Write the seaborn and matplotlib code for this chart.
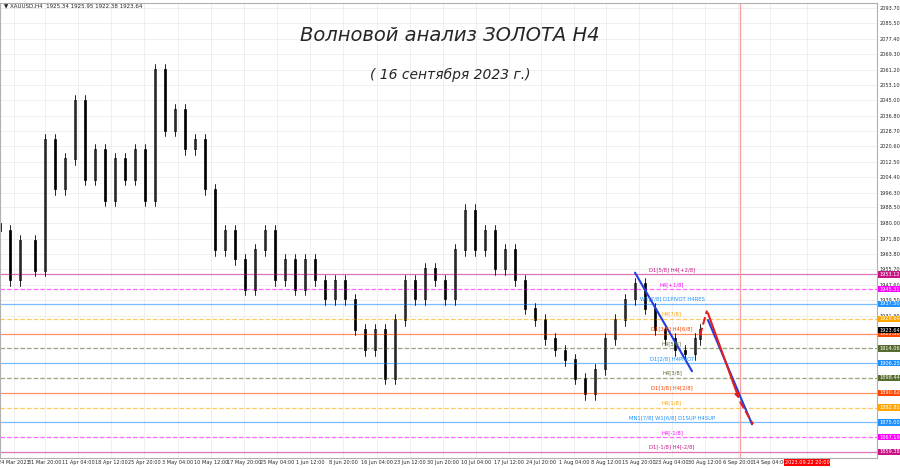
import matplotlib
matplotlib.use("Agg")
import matplotlib.pyplot as plt
import seaborn as sns
import numpy as np

sns.set_style("white")
plt.rcParams['font.family'] = ['DejaVu Sans']

# approximate bar positions (chart x units) and closing prices
bar_x = [0,10,20,35,45,55,65,75,85,95,105,115,125,135,145,155,165,175,185,195,205,215,225,235,245,255,
         265,275,285,295,305,315,325,335,345,355,365,375,385,395,405,415,425,435,445,455,465,475,485,495,
         505,515,525,535,545,555,565,575,585,595,605,615,625,635,645,655,665,675,685,695,700]
closes = [1976,1950,1971,1955,2024,1998,2014,2045,2003,2019,1992,2014,2003,2019,1992,2061,2029,2040,2019,2024,
          1998,1966,1976,1961,1945,1966,1976,1950,1961,1945,1961,1950,1940,1950,1940,1924,1913,1924,1898,1929,
          1950,1940,1956,1950,1940,1966,1987,1966,1976,1956,1966,1950,1935,1929,1919,1913,1908,1898,1890,1903,
          1919,1929,1940,1948,1935,1924,1919,1913,1911,1919,1924]

levels = [1953.12,1945.31,1937.50,1929.69,1921.88,1914.06,1906.25,1898.44,1890.62,1882.81,1875.00,1867.19,1859.38]
level_labels = ["D1[5/8] H4[+2/8]","H4[+1/8]","W1[7/8] D1PIVOT H4RES","H4[7/8]","D1[3/8] H4[6/8]","H4[5/8]",
                "D1[2/8] H4PIVOT","H4[3/8]","D1[1/8] H4[2/8]","H4[1/8]","MN1[7/8] W1[6/8] D1SUP H4SUP","H4[-1/8]","D1[-1/8] H4[-2/8]"]
level_colors = ["#c71585","#ff00ff","#1e90ff","#ffa500","#ff4500","#556b2f","#1e90ff","#556b2f","#ff4500","#ffa500","#1e90ff","#ff00ff","#c71585"]
level_styles = ["-","--","-","--","-","--","-","--","-","--","-","--","-"]

yticks = [2093.70,2085.50,2077.40,2069.30,2061.20,2053.10,2045.00,2036.80,2028.70,2020.60,2012.50,2004.40,
          1996.30,1988.50,1980.00,1971.80,1963.80,1955.70,1947.60,1939.50,1931.30]
xtick_pos = [14,45,78,111,144,178,211,244,277,310,343,377,410,443,476,509,541,574,606,639,672,705,738,770,807]
xtick_labels = ["24 Mar 2023","31 Mar 20:00","11 Apr 04:00","18 Apr 12:00","25 Apr 20:00","3 May 04:00",
                "10 May 12:00","17 May 20:00","25 May 04:00","1 Jun 12:00","8 Jun 20:00","16 Jun 04:00",
                "23 Jun 12:00","30 Jun 20:00","10 Jul 04:00","17 Jul 12:00","24 Jul 20:00","1 Aug 04:00",
                "8 Aug 12:00","15 Aug 20:00","23 Aug 04:00","30 Aug 12:00","6 Sep 20:00","14 Sep 04:00",
                "2023.09.22 20:00"]

# forecast lines (x, price)
blue1 = ([635,692],[1954,1902])
blue2 = ([708,752],[1929,1874])
red_up = ([700,707],[1921,1934])
red_down = ([707,740],[1934,1886])
red_tail = ([740,753],[1886,1874])

fig = plt.figure(figsize=(9,4.68), dpi=100)
ax = fig.add_axes([0.0, 10/468, 877/900, 455/468])
ax.set_xlim(0, 877)
ax.set_ylim(1856.2, 2096.3)

ax.set_yticks(yticks)
ax.grid(True, color="#ececec", lw=0.6)
ax.set_xticks(xtick_pos)
ax.set_xticklabels(xtick_labels, fontsize=3.6)
ax.tick_params(axis='x', length=0, pad=1.5)
ax.yaxis.tick_right()
ax.set_yticklabels([f"{v:.2f}" for v in yticks], fontsize=3.6)
ax.tick_params(axis='y', length=0, pad=2)
ax.get_xticklabels()[-1].set_color("white")
ax.get_xticklabels()[-1].set_bbox(dict(facecolor="red", edgecolor="none", pad=0.8))
for s in ax.spines.values():
    s.set_color("#b0b0b0")

# levels
for lv, lab, c, ls in zip(levels, level_labels, level_colors, level_styles):
    ax.axhline(lv, color=c, ls=ls, lw=0.9, alpha=0.6)
    ax.text(672, lv+1.2, lab, color=c, fontsize=3.8, ha="center", va="bottom")
    ax.text(879, lv, f"{lv:.2f}", color="white", fontsize=3.6, ha="left", va="center",
            clip_on=False, bbox=dict(facecolor=c, edgecolor="none", pad=0.5))
ax.text(879, 1923.64, "1923.64", color="white", fontsize=3.6, va="center", clip_on=False,
        bbox=dict(facecolor="black", edgecolor="none", pad=0.5))
ax.axvline(740, color="#f4a0a0", lw=0.9)

# candles
for i, (x, c) in enumerate(zip(bar_x, closes)):
    o = closes[i-1] if i > 0 else c + 4
    hi, lo = max(o, c) + 3, min(o, c) - 3
    ax.plot([x, x], [lo, hi], color="black", lw=0.6)
    ax.bar(x, abs(c-o) + 0.3, bottom=min(o, c), width=2.5,
           color="white" if c >= o else "black", edgecolor="black", lw=0.5)

ax.plot(*blue1, color="#1f3fe0", lw=1.5)
ax.plot(*blue2, color="#1f3fe0", lw=1.5)
ax.plot(*red_up, color="#e02020", lw=1.5, ls="--")
ax.annotate("", xy=(red_down[0][1], red_down[1][1]), xytext=(red_down[0][0], red_down[1][0]),
            arrowprops=dict(arrowstyle="-|>", color="#e02020", lw=1.5, mutation_scale=6))
ax.plot(*red_tail, color="#e02020", lw=1.5, ls="--")

fig.text(0.005, 0.994, "▼ XAUUSD,H4  1925.34 1925.95 1922.38 1923.64", fontsize=4, va="top")
fig.text(0.5, 0.925, "Волновой анализ ЗОЛОТА H4", fontsize=14, style="italic", ha="center", va="center")
fig.text(0.5, 0.84, "( 16 сентября 2023 г.)", fontsize=10, style="italic", ha="center", va="center")

fig.savefig("out.png", dpi=100)
